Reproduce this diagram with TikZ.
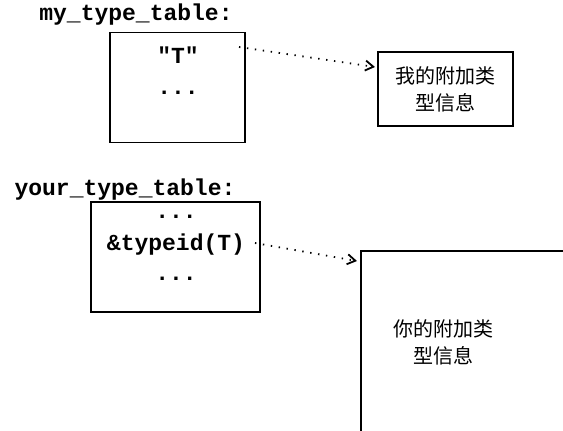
\documentclass[tikz,border=0pt]{standalone}
\usepackage{fontspec}
\setmonofont{Liberation Mono}
\newfontfamily\cjk{Noto Sans CJK SC}
\usetikzlibrary{arrows.meta}
\tikzset{
	code/.style={font=\ttfamily\bfseries\fontsize{11.5}{13}\selectfont,inner sep=0pt,anchor=base},
	dots/.style={code,text height=1.5pt,text depth=0pt},
	hanzi/.style={font=\cjk\fontsize{10}{13.5}\selectfont,align=center,inner sep=0pt},
	tablebox/.style={draw,line width=0.9pt,minimum width=#1,minimum height=55pt,inner sep=0pt},
	ptr/.style={dash pattern=on 0.7pt off 3.3pt,line width=0.9pt,-{Straight Barb[length=4pt,width=5pt]}}
}
\begin{document}
\begin{tikzpicture}[x=0.5pt,y=-0.5pt]
	\useasboundingbox (0,0) rectangle (563,430);
	% upper table
	\node[code] (mylabel) at (136,20) {my\_type\_table:};
	\node[tablebox=67.5pt] (mytable) at (177.5,87.5) {};
	\node[code] (myname) at (178,63) {"T"};
	\node[dots] (mydots) at (178,94) {...};
	\node[draw,line width=0.9pt,minimum width=67.5pt,minimum height=37pt,hanzi] (myinfo) at (445.5,89) {我的附加类\\型信息};
	\coordinate (myfrom) at (239,47);
	\coordinate (myto) at (375,67);
	\draw[ptr] (myfrom)--(myto);
	% lower table
	\node[code] (yourlabel) at (125,195) {your\_type\_table:};
	\node[tablebox=84.5pt] (yourtable) at (175.5,257) {};
	\node[dots] (yourdotsa) at (176,218) {...};
	\node[code] (yourid) at (176,250) {\&typeid(T)};
	\node[dots] (yourdotsb) at (176,280) {...};
	\begin{scope}
		\clip (0,0) rectangle (563,430);
		\node[draw,line width=0.9pt,minimum width=125pt,minimum height=115pt,anchor=north west] (yourinfo) at (360,250) {};
	\end{scope}
	\node[hanzi] (yourtext) at (443,342) {你的附加类\\型信息};
	\coordinate (yourfrom) at (255,243);
	\coordinate (yourto) at (357,261);
	\draw[ptr] (yourfrom)--(yourto);
\end{tikzpicture}
\end{document}
